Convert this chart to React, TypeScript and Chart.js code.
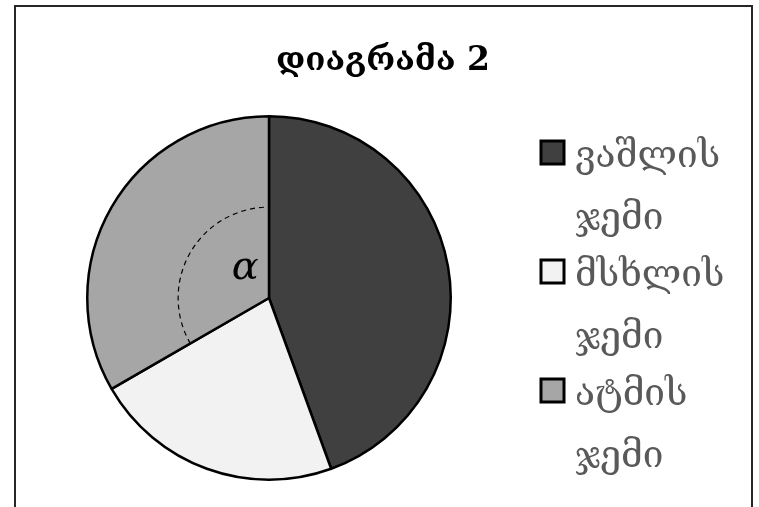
import React, { useEffect, useRef } from "react";
import { Chart, registerables } from "chart.js";

Chart.register(...registerables);

const titleText = "დიაგრამა 2";
const categories: string[][] = [
  ["ვაშლის", "ჯემი"],
  ["მსხლის", "ჯემი"],
  ["ატმის", "ჯემი"],
];
const values = [160, 80, 120];
const colors = ["#404040", "#f2f2f2", "#a6a6a6"];
const angleLabel = "α";
const angleSliceIndex = 2;

const W = 759;
const H = 507;

const overlayPlugin = {
  id: "overlay",
  afterDraw(chart: any) {
    const ctx = chart.ctx as CanvasRenderingContext2D;
    ctx.save();
    // frame
    ctx.strokeStyle = "#262626";
    ctx.lineWidth = 2;
    ctx.strokeRect(15, 6, 737, 520);

    // title
    ctx.fillStyle = "#000";
    ctx.font = "bold 33px 'DejaVu Serif'";
    ctx.textAlign = "center";
    ctx.textBaseline = "alphabetic";
    ctx.fillText(titleText, 383, 70);

    // angle marker
    const meta = chart.getDatasetMeta(0);
    const arc = meta.data[angleSliceIndex] as any;
    if (arc) {
      const p = arc.getProps(["x", "y", "startAngle", "endAngle", "outerRadius"], true);
      ctx.beginPath();
      ctx.setLineDash([5, 4]);
      ctx.lineWidth = 1.2;
      ctx.strokeStyle = "#000";
      ctx.arc(p.x, p.y, p.outerRadius * 0.5, p.startAngle, p.endAngle);
      ctx.stroke();
      ctx.setLineDash([]);
      ctx.font = "italic 40px 'DejaVu Serif'";
      ctx.textAlign = "center";
      ctx.textBaseline = "middle";
      ctx.fillStyle = "#000";
      ctx.fillText(angleLabel, p.x - p.outerRadius * 0.13, p.y - p.outerRadius * 0.16);
    }

    // legend
    const boxX = 541;
    const textX = 575;
    let top = 141;
    const pitch = 119;
    const linePitch = 62;
    categories.forEach((lines, i) => {
      ctx.fillStyle = colors[i];
      ctx.fillRect(boxX, top, 23, 23);
      ctx.lineWidth = 3;
      ctx.strokeStyle = "#000";
      ctx.strokeRect(boxX, top, 23, 23);
      ctx.fillStyle = "#595959";
      ctx.font = "37px 'DejaVu Serif'";
      ctx.textAlign = "left";
      ctx.textBaseline = "alphabetic";
      lines.forEach((ln, j) => {
        ctx.fillText(ln, textX, top + 26 + j * linePitch);
      });
      top += pitch;
    });
    ctx.restore();
  },
};

export default function App() {
  const ref = useRef<HTMLCanvasElement>(null);
  useEffect(() => {
    document.body.style.margin = "0";
    const chart = new Chart(ref.current!, {
      type: "pie",
      data: {
        labels: categories.map((c) => c.join(" ")),
        datasets: [
          {
            data: values,
            backgroundColor: colors,
            borderColor: "#000",
            borderWidth: 2.5,
            borderAlign: "center",
          },
        ],
      },
      options: {
        responsive: false,
        animation: false,
        layout: { padding: { left: 86, top: 115, right: 307, bottom: 26 } },
        plugins: {
          legend: { display: false },
          title: { display: false },
          tooltip: { enabled: false },
        },
      },
      plugins: [overlayPlugin],
    });
    return () => chart.destroy();
  }, []);
  return (
    <div style={{ width: W, height: H, background: "#fff" }}>
      <canvas ref={ref} width={W} height={H} />
    </div>
  );
}
